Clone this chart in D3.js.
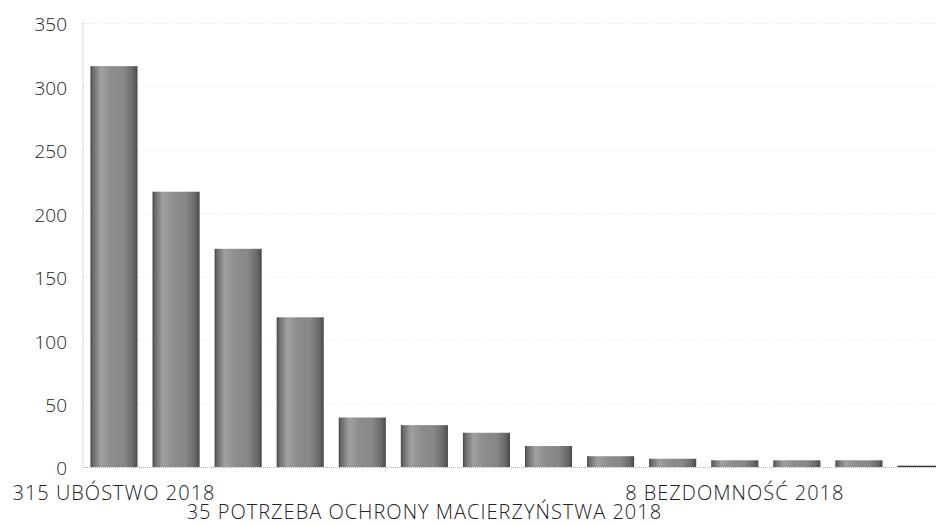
<!DOCTYPE html>
<html>
<head>
<meta charset="utf-8">
<script src="https://cdn.jsdelivr.net/npm/d3@7"></script>
<style>
  html, body { margin: 0; padding: 0; background: #fff; overflow: hidden; }
  text { font-family: "Open Sans", "Noto Sans", sans-serif; }
</style>
</head>
<body>
<svg id="chart" width="936" height="526"></svg>
<script>
// ---- data ----
const categories = [
  "315 UBÓSTWO 2018", "", "", "", "",
  "35 POTRZEBA OCHRONY MACIERZYŃSTWA 2018", "", "", "", "",
  "8 BEZDOMNOŚĆ 2018", "", "", ""
];
const values = [316, 217, 172, 118, 39, 33, 27, 16.5, 8.5, 6.5, 5.3, 5.3, 5.3, 1];
const labelRow = [0, 0, 0, 0, 0, 1, 0, 0, 0, 0, 0, 0, 0, 0];
const yTicks = [0, 50, 100, 150, 200, 250, 300, 350];

// ---- layout ----
const svg = d3.select("#chart");
const plotLeft = 83, plotRight = 952, plotTop = 23, plotBottom = 467;

const x = d3.scaleBand()
  .domain(d3.range(values.length))
  .range([plotLeft, plotRight])
  .paddingInner(0.2415)
  .paddingOuter(0.12);

const y = d3.scaleLinear().domain([0, 350]).range([plotBottom, plotTop]);

// gradient for bars
const defs = svg.append("defs");
const grad = defs.append("linearGradient").attr("id", "barGrad")
  .attr("x1", "0%").attr("x2", "100%").attr("y1", "0%").attr("y2", "0%");
[[0, "#444"], [5, "#6a6a6a"], [22, "#a0a0a0"], [45, "#8c8c8c"],
 [70, "#888"], [90, "#6a6a6a"], [100, "#4a4a4a"]]
  .forEach(([o, c]) => grad.append("stop").attr("offset", o + "%").attr("stop-color", c));

// gridlines
const yAxisGrid = d3.axisLeft(y).tickValues(yTicks).tickSize(-(plotRight - plotLeft)).tickFormat("");
const gGrid = svg.append("g").attr("transform", `translate(${plotLeft},0)`).call(yAxisGrid);
gGrid.select(".domain").remove();
gGrid.selectAll("line")
  .attr("stroke", "#e2e2e2")
  .attr("stroke-width", 1)
  .attr("stroke-dasharray", "1,2");

// y tick labels
const yAxis = d3.axisLeft(y).tickValues(yTicks).tickSize(0).tickPadding(16);
const gY = svg.append("g").attr("transform", `translate(${plotLeft},0)`).call(yAxis);
gY.select(".domain").remove();
gY.selectAll("text")
  .attr("font-size", 19)
  .attr("font-weight", 300)
  .attr("fill", "#222")
  .attr("dy", "0.42em")
  .style("font-family", '"Open Sans", sans-serif');

// vertical axis line (dotted)
svg.append("line")
  .attr("x1", plotLeft).attr("x2", plotLeft).attr("y1", plotTop).attr("y2", plotBottom)
  .attr("stroke", "#b8b8b8").attr("stroke-dasharray", "1,1");

// bars
svg.append("g").selectAll("rect")
  .data(values)
  .join("rect")
  .attr("x", (d, i) => x(i))
  .attr("width", x.bandwidth())
  .attr("y", d => y(d))
  .attr("height", d => y(0) - y(d))
  .attr("fill", (d, i) => i === values.length - 1 ? "#333" : "url(#barGrad)");

// baseline (dotted)
svg.append("line")
  .attr("x1", plotLeft).attr("x2", plotRight).attr("y1", plotBottom + 0.5).attr("y2", plotBottom + 0.5)
  .attr("stroke", "#b8b8b8").attr("stroke-dasharray", "1,1");

// x labels via axis
const xAxis = d3.axisBottom(x).tickSize(0).tickFormat(i => categories[i]);
const gX = svg.append("g").attr("transform", `translate(0,${plotBottom})`).call(xAxis);
gX.select(".domain").remove();
gX.selectAll(".tick").filter(i => !categories[i]).remove();
gX.selectAll("text")
  .attr("font-size", 20)
  .attr("font-weight", 300)
  .attr("letter-spacing", 1)
  .attr("fill", "#222")
  .attr("dy", null)
  .attr("y", i => labelRow[i] === 0 ? 33 : 52)
  .style("font-family", '"Open Sans", sans-serif');
</script>
</body>
</html>
